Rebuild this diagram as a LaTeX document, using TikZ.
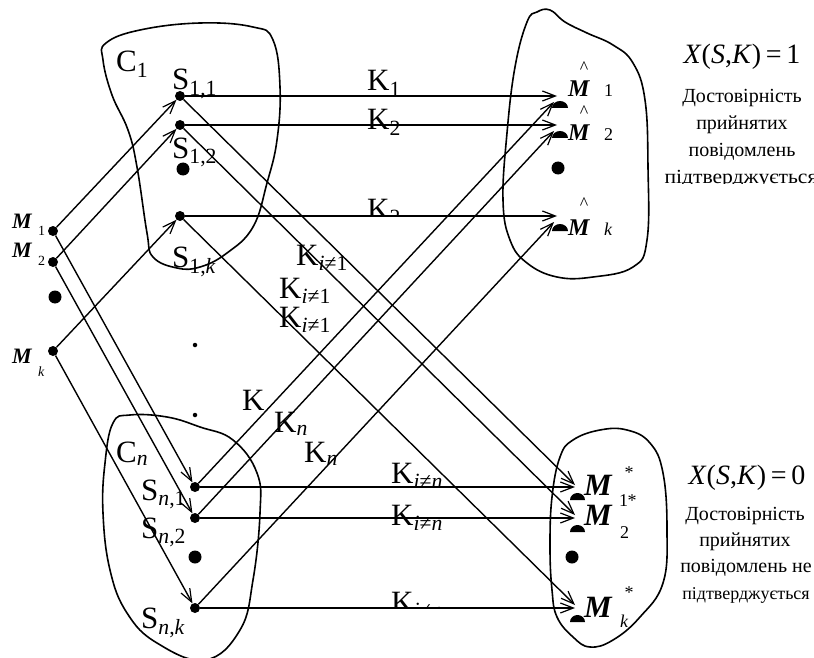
\documentclass[tikz,border=0pt]{standalone}
\usepackage{fontspec}
\setmainfont{Liberation Serif}
\usetikzlibrary{arrows.meta}
\begin{document}
\begin{tikzpicture}[x=1pt,y=-1pt,
  dot/.style={circle,fill=black,inner sep=0pt,minimum size=10pt},
  bigdot/.style={circle,fill=black,inner sep=0pt,minimum size=13pt},
  tinydot/.style={circle,fill=black,inner sep=0pt,minimum size=4.5pt},
  conn/.style={line width=1.4pt},
  arr/.style={conn,-{Straight Barb[length=13pt,width=10pt,line width=1.2pt]}},
  blob/.style={line width=1.6pt,smooth cycle,tension=0.7},
  kl/.style={font=\fontsize{31}{33}\selectfont,inner sep=0pt,anchor=base west},
  ml/.style={font=\fontsize{22}{24}\selectfont\bfseries\itshape,inner sep=0pt,anchor=base west},
  mh/.style={font=\fontsize{24}{26}\selectfont\bfseries\itshape,inner sep=0pt,anchor=base west},
  ms/.style={font=\fontsize{31}{33}\selectfont\bfseries\itshape,inner sep=0pt,anchor=base west},
  smalltxt/.style={font=\fontsize{14}{15}\selectfont,inner sep=0pt,anchor=base west},
  midtxt/.style={font=\fontsize{18}{19}\selectfont,inner sep=0pt,anchor=base west},
  eqtxt/.style={font=\fontsize{28}{30}\selectfont,inner sep=0pt},
  cyr/.style={font=\fontsize{20}{22}\selectfont,inner sep=0pt}
]
\useasboundingbox (0,0) rectangle (814,658);

% blobs
\draw[blob] plot coordinates {(106,43) (140,30) (200,23) (253,27) (273,40) (280,87) (277,140) (267,183) (253,227) (227,253) (200,267) (177,268) (153,257) (147,233) (137,167) (128,130) (112,95) (103,60)};
\draw[blob] plot coordinates {(537,12) (527,22) (515,67) (507,133) (503,200) (510,240) (527,263) (557,277) (593,277) (633,267) (647,240) (648,167) (645,100) (633,63) (613,45) (587,33) (565,22) (550,10)};
\draw[blob] plot coordinates {(600,430) (573,440) (560,457) (552,497) (550,547) (552,590) (557,617) (573,637) (590,647) (613,640) (640,617) (663,583) (667,530) (663,473) (650,443) (627,430)};
\draw[blob] plot coordinates {(130,415) (113,423) (105,463) (103,513) (110,570) (127,613) (157,643) (205,660) (240,630) (253,580) (260,513) (257,473) (233,440) (200,427) (167,417)};

% dots
\node[dot] (m1) at (53,231) {};
\node[dot] (m2) at (53,262) {};
\node[bigdot] (mdots) at (55,297) {};
\node[dot] (mk) at (53,351) {};
\node[dot] (s11) at (180,96) {};
\node[dot] (s12) at (180,125) {};
\node[bigdot] (s1dots) at (183,169) {};
\node[dot] (s1k) at (180,216) {};
\node[tinydot] (v1) at (195,345) {};
\node[tinydot] (v2) at (195,415) {};
\node[dot] (sn1) at (195,487) {};
\node[dot] (sn2) at (195,518) {};
\node[bigdot] (sndots) at (195,557) {};
\node[dot] (snk) at (195,608) {};
\node[bigdot] (hdots) at (558,168) {};
\node[bigdot] (sdots) at (572,557) {};

% targets
\coordinate (h1) at (557,96);  \coordinate (h1d) at (554,102);
\coordinate (h2) at (557,125); \coordinate (h2d) at (554,131);
\coordinate (hk) at (557,216); \coordinate (hkd) at (554,222);
\coordinate (t1) at (575,487); \coordinate (t1d) at (575,485);
\coordinate (t2) at (575,518); \coordinate (t2d) at (575,515);
\coordinate (tk) at (575,608); \coordinate (tkd) at (575,605);

% domes
\fill (552,108) arc[start angle=180,end angle=360,x radius=8,y radius=7] -- cycle;
\fill (552,138) arc[start angle=180,end angle=360,x radius=8,y radius=7] -- cycle;
\fill (552,231) arc[start angle=180,end angle=360,x radius=8,y radius=7] -- cycle;
\fill (570,500) arc[start angle=180,end angle=360,x radius=7.5,y radius=7] -- cycle;
\fill (570,532) arc[start angle=180,end angle=360,x radius=7.5,y radius=7] -- cycle;
\fill (570,622) arc[start angle=180,end angle=360,x radius=7.5,y radius=7] -- cycle;

% connectors M -> S
\draw[arr] (m1) -- (s11);
\draw[arr] (m2) -- (s12);
\draw[arr] (mk) -- (s1k);
\draw[arr] (m1) -- (sn1);
\draw[arr] (m2) -- (sn2);
\draw[arr] (mk) -- (snk);

% S1 -> outputs
\draw[arr] (s11) -- (h1);
\draw[arr] (s12) -- (h2);
\draw[arr] (s1k) -- (hk);
\draw[arr] (s11) -- (t1d);
\draw[arr] (s12) -- (t2d);
\draw[arr] (s1k) -- (tkd);

% Sn -> outputs
\draw[arr] (sn1) -- (h1d);
\draw[arr] (sn2) -- (h2d);
\draw[arr] (snk) -- (hkd);
\draw[arr] (sn1) -- (t1);
\draw[arr] (sn2) -- (t2);
\draw[arr] (snk) -- (tk);

% labels C, S
\node[kl] (c1) at (116,72) {C\textsubscript{1}};
\node[kl] (cn) at (116,462) {C\textsubscript{\textit{n}}};
\node[kl] (ls11) at (172,90) {S\textsubscript{1,1}};
\node[kl] (ls12) at (172,158) {S\textsubscript{1,2}};
\node[kl] (ls1k) at (172,267) {S\textsubscript{1,\textit{k}}};
\node[kl] (lsn1) at (141,500) {S\textsubscript{\textit{n},1}};
\node[kl] (lsn2) at (141,538) {S\textsubscript{\textit{n},2}};
\node[kl] (lsnk) at (141,628) {S\textsubscript{\textit{n},\textit{k}}};

% K labels
\node[kl] (k1) at (367,91) {K\textsubscript{1}};
\node[kl] (k2) at (367,130) {K\textsubscript{2}};
\begin{scope}
\clip (355,180) rectangle (430,214);
\node[kl] (k3) at (367,219) {K\textsubscript{2}};
\end{scope}
\node[kl] (ka) at (296,265) {K\textsubscript{\textit{i}≠1}};
\node[kl] (kb) at (279,298) {K\textsubscript{\textit{i}≠1}};
\node[kl] (kc) at (279,327) {K\textsubscript{\textit{i}≠1}};
\node[kl] (kd) at (242,410) {K};
\node[kl] (ke) at (274,432) {K\textsubscript{\textit{n}}};
\node[kl] (kf) at (304,462) {K\textsubscript{\textit{n}}};
\node[kl] (kg) at (391,483) {K\textsubscript{\textit{i}≠\textit{n}}};
\node[kl] (kh) at (391,525) {K\textsubscript{\textit{i}≠\textit{n}}};
\begin{scope}
\clip (380,570) rectangle (470,606);
\node[kl] (ki) at (391,612) {K\textsubscript{\textit{i}≠\textit{n}}};
\end{scope}

% left M labels
\node[ml] (lm1) at (12,228) {M};
\node[smalltxt] (lm1s) at (38,235) {1};
\node[ml] (lm2) at (12,257) {M};
\node[smalltxt] (lm2s) at (38,265) {2};
\node[ml] (lmk) at (12,363) {M};
\node[smalltxt] (lmks) at (38,376) {\textit{k}};

% hat M labels
\node[mh] (hm1) at (568,97) {M};
\node[midtxt] (hm1s) at (604,97) {1};
\node[midtxt,anchor=center] (hm1h) at (584,68) {\^{}};
\node[mh] (hm2) at (568,141) {M};
\node[midtxt] (hm2s) at (604,141) {2};
\node[midtxt,anchor=center] (hm2h) at (584,112) {\^{}};
\node[mh] (hmk) at (568,235) {M};
\node[midtxt] (hmks) at (604,235) {\textit{k}};
\node[midtxt,anchor=center] (hmkh) at (584,204) {\^{}};

% star M labels
\node[ms] (sm1) at (584,495) {M};
\node[midtxt,anchor=center] (sm1a) at (629,473) {*};
\node[midtxt] (sm1s) at (619,506) {1};
\node[ms] (sm2) at (584,525) {M};
\node[midtxt,anchor=center] (sm2a) at (632,501) {*};
\node[midtxt] (sm2s) at (620,538) {2};
\node[ms] (smk) at (584,617) {M};
\node[midtxt,anchor=center] (smka) at (629,593) {*};
\node[midtxt] (smks) at (620,627) {\textit{k}};

% right texts
\node[eqtxt] (eq1) at (742,57) {\textit{X}(\textit{S},\textit{K})\,=\,1};
\node[cyr] (ta1) at (742,98) {Достовірність};
\node[cyr] (ta2) at (742,125) {прийнятих};
\node[cyr] (ta3) at (742,152) {повідомлень};
\begin{scope}
\clip (660,160) rectangle (814,183);
\node[cyr,xscale=1.08] (ta4) at (741,179) {підтверджується};
\end{scope}
\node[eqtxt] (eq0) at (747,478) {\textit{X}(\textit{S},\textit{K})\,=\,0};
\node[cyr] (tb1) at (745,516) {Достовірність};
\node[cyr] (tb2) at (745,542) {прийнятих};
\node[cyr] (tb3) at (746,568) {повідомлень не};
\node[cyr,font=\fontsize{18}{20}\selectfont] (tb4) at (746,595) {підтверджується};
\end{tikzpicture}
\end{document}
